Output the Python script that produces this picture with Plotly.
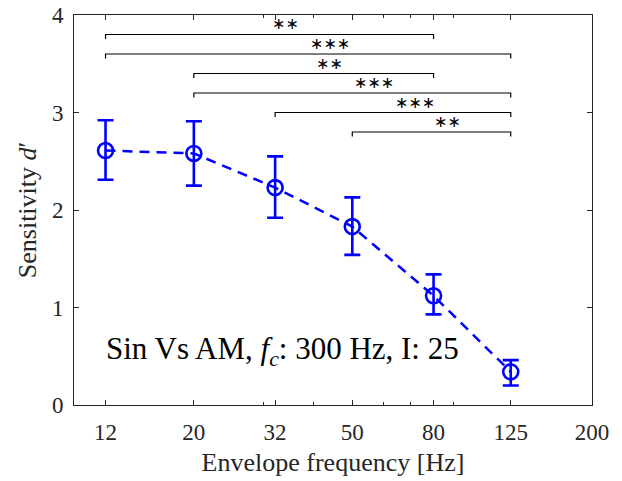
import math
import plotly.graph_objects as go

# ---- data ----
freqs = [12, 20, 32, 50, 80, 125]
dprime = [2.61, 2.58, 2.23, 1.83, 1.12, 0.34]
err_up = [0.31, 0.33, 0.32, 0.30, 0.22, 0.12]
err_down = [0.30, 0.33, 0.31, 0.29, 0.19, 0.14]

xtick_vals = [12, 20, 32, 50, 80, 125, 200]
xtick_text = ["12", "20", "32", "50", "80", "125", "200"]
minor_vals = [30, 40, 60, 70, 90]
ytick_vals = [0, 1, 2, 3, 4]

br_left = [12, 12, 20, 20, 32, 50]
br_right = [80, 125, 80, 125, 125, 125]
br_y = [3.8, 3.6, 3.4, 3.2, 3.0, 2.8]
br_label = ["**", "***", "**", "***", "***", "**"]

annot_text = "Sin Vs AM, <i>f</i><sub><i>c</i></sub>: 300 Hz, I: 25"

BLUE = "rgb(0,0,255)"
AX = "rgb(38,38,38)"
FONT = "Liberation Serif, Times New Roman, serif"
drop = 0.045

fig = go.Figure()

# significance brackets
for xl, xr, yb in zip(br_left, br_right, br_y):
    fig.add_trace(go.Scatter(
        x=[xl, xl, xr, xr], y=[yb - drop, yb, yb, yb - drop],
        mode="lines", line=dict(color="black", width=1.2),
        hoverinfo="skip", showlegend=False))

fig.add_trace(go.Scatter(
    x=freqs, y=dprime, mode="lines+markers",
    line=dict(color=BLUE, width=2.5, dash="10px,7px"),
    marker=dict(symbol="circle-open", size=15, color=BLUE,
                line=dict(color=BLUE, width=2.6)),
    error_y=dict(type="data", symmetric=False, array=err_up,
                 arrayminus=err_down, color=BLUE, thickness=2.6, width=8),
    showlegend=False))

annotations = []
for xl, xr, yb, lab in zip(br_left, br_right, br_y, br_label):
    xm = (math.log10(xl) + math.log10(xr)) / 2
    annotations.append(dict(
        x=xm, y=yb, xref="x", yref="y", text=lab.replace("*", "∗"),
        showarrow=False, xanchor="left", yanchor="bottom", yshift=-1,
        font=dict(family="DejaVu Sans", size=16, color="black")))

annotations.append(dict(
    x=math.log10(freqs[0]), y=0.55, xref="x", yref="y", text=annot_text,
    showarrow=False, xanchor="left", yanchor="middle", xshift=-2,
    font=dict(family=FONT, size=31, color="black")))

fig.update_layout(
    width=614, height=473,
    margin=dict(l=66, r=30, t=7, b=76, autoexpand=False),
    paper_bgcolor="white", plot_bgcolor="white",
    font=dict(family=FONT, size=23, color=AX),
    annotations=annotations,
    xaxis=dict(
        type="log", range=[1, math.log10(200)], automargin=False,
        tickvals=xtick_vals, ticktext=xtick_text,
        ticks="inside", ticklen=5, tickcolor=AX, tickwidth=1,
        ticklabelstandoff=6, ticklabeloverflow="allow",
        showline=True, linecolor=AX, linewidth=1, mirror="ticks",
        showgrid=False, zeroline=False,
        tickfont=dict(family=FONT, size=23, color=AX),
        title=dict(text="Envelope frequency [Hz]", standoff=9,
                   font=dict(family=FONT, size=26, color=AX)),
        minor=dict(tickvals=minor_vals, ticks="inside", ticklen=3,
                   tickcolor=AX, tickwidth=1, showgrid=False),
    ),
    yaxis=dict(
        range=[0, 4], tickvals=ytick_vals, automargin=False,
        ticks="inside", ticklen=5, tickcolor=AX, tickwidth=1,
        ticklabelstandoff=5, ticklabeloverflow="allow",
        showline=True, linecolor=AX, linewidth=1, mirror="ticks",
        showgrid=False, zeroline=False,
        tickfont=dict(family=FONT, size=23, color=AX),
        title=dict(text="Sensitivity <i>d</i>′", standoff=7,
                   font=dict(family=FONT, size=26, color=AX)),
    ),
)

fig.write_html("out.html")
